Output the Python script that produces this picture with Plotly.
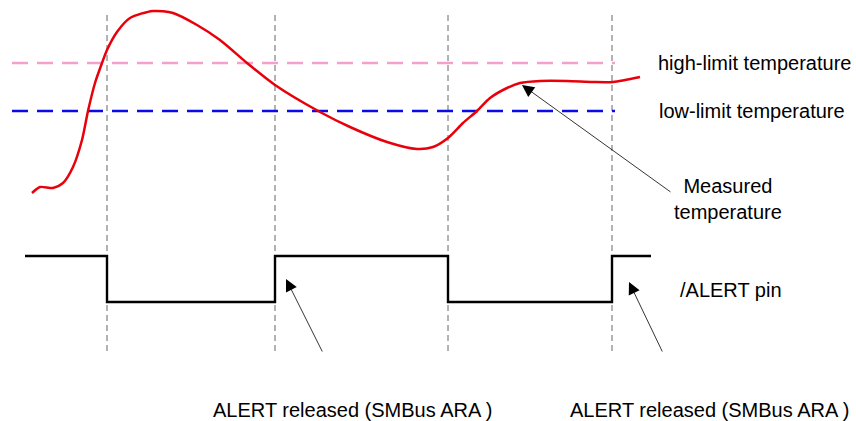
import plotly.graph_objects as go

# --- data (drawing units: x to the right, y downward) ---
temp_x = [32, 40, 53, 63, 73, 82, 88, 95, 102, 107, 117, 130, 153, 173, 197, 220, 247, 275, 320, 350, 387, 417, 433, 448, 463, 477, 490, 507, 520, 540, 567, 593, 613, 640]
temp_y = [193, 187, 188, 183, 167, 140, 111, 83, 63, 50, 32, 18, 11, 13, 25, 40, 63, 85, 112, 127, 142, 149, 147, 138, 123, 111, 98, 88, 83, 81, 81, 82, 82, 77]

alert_x = [25, 107, 107, 275, 275, 448, 448, 612, 612, 651]
alert_y = [256, 256, 302, 302, 256, 256, 302, 302, 256, 256]

event_x = [107, 275, 448, 612]
event_top, event_bottom = 15, 355

limit_x = [12, 615]
high_limit = 63
low_limit = 111

labels = ["high-limit temperature", "low-limit temperature", "Measured<br>temperature", "/ALERT pin", "ALERT released (SMBus ARA )"]

FONT = "Liberation Sans, Arial, sans-serif"

fig = go.Figure()

for ex in event_x:
    fig.add_trace(go.Scatter(x=[ex, ex], y=[event_top, event_bottom], mode="lines",
                             line=dict(color="#666666", width=1, dash="6px,4px"), hoverinfo="skip"))

fig.add_trace(go.Scatter(x=limit_x, y=[high_limit, high_limit], mode="lines",
                         line=dict(color="#f4a0cc", width=2.5, dash="16px,9px"), hoverinfo="skip"))
fig.add_trace(go.Scatter(x=limit_x, y=[low_limit, low_limit], mode="lines",
                         line=dict(color="#0a0ae6", width=2.5, dash="16px,9px"), hoverinfo="skip"))

fig.add_trace(go.Scatter(x=temp_x, y=temp_y, mode="lines",
                         line=dict(color="#e8000b", width=2.5, shape="spline", smoothing=0.7), hoverinfo="skip"))

fig.add_trace(go.Scatter(x=alert_x, y=alert_y, mode="lines",
                         line=dict(color="black", width=2.4), hoverinfo="skip"))

# arrows
arrows = [((522, 85), (672, 193)), ((286, 279), (323, 353)), ((629, 282), (663, 353))]
for (hx, hy), (tx, ty) in arrows:
    fig.add_annotation(x=hx, y=hy, ax=tx, ay=ty, xref="x", yref="y", axref="x", ayref="y",
                       showarrow=True, arrowhead=2, arrowsize=3, arrowwidth=0.8,
                       arrowcolor="black", text="")

texts = [
    (754, 63, labels[0]),
    (752, 111, labels[1]),
    (728, 199, labels[2]),
    (731, 290, labels[3]),
    (352, 410, labels[4]),
    (709, 410, labels[4]),
]
for tx, ty, t in texts:
    fig.add_annotation(x=tx, y=ty, xref="x", yref="y", text=t, showarrow=False,
                       font=dict(family=FONT, size=20, color="black"),
                       xanchor="center", yanchor="middle", align="center")

fig.update_layout(
    width=856, height=421,
    margin=dict(l=0, r=0, t=0, b=0),
    paper_bgcolor="white", plot_bgcolor="white",
    showlegend=False,
    xaxis=dict(range=[0, 856], visible=False, fixedrange=True),
    yaxis=dict(range=[421, 0], visible=False, fixedrange=True),
)

fig.write_html("out.html", config={"displayModeBar": False},
               post_script="document.body.style.margin='0';document.body.style.padding='0';document.body.style.overflow='hidden';")
